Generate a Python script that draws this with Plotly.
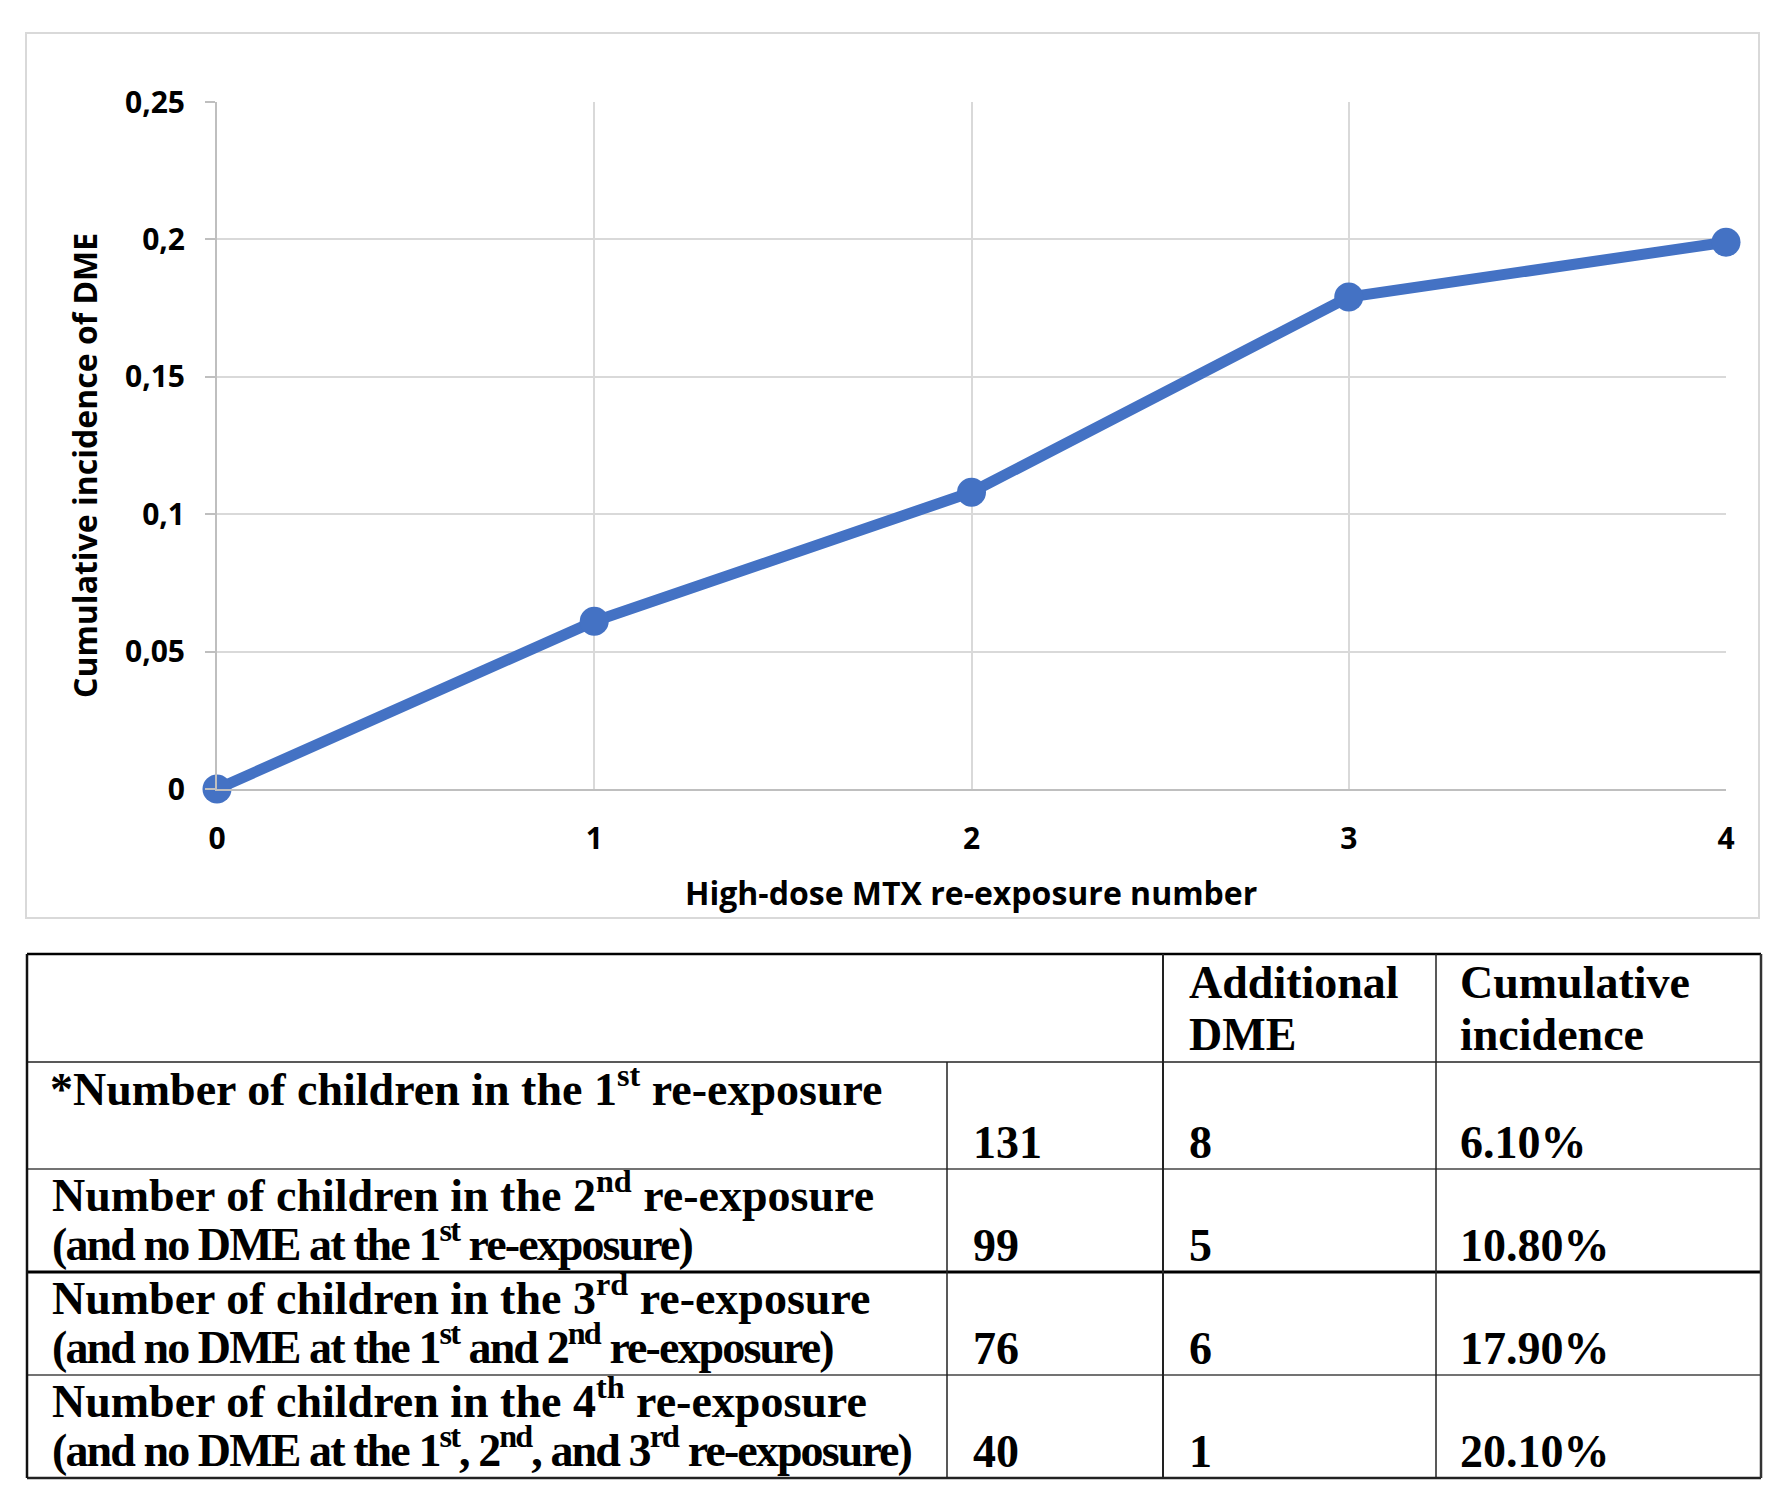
import plotly.graph_objects as go

# ---------------- data ----------------
reexposure = [0, 1, 2, 3, 4]
cum_incidence = [0, 0.061, 0.108, 0.179, 0.199]
y_tickvals = [0, 0.05, 0.1, 0.15, 0.2, 0.25]
y_ticktext = ["0", "0,05", "0,1", "0,15", "0,2", "0,25"]
x_ticktext = ["0", "1", "2", "3", "4"]

x_title = "High-dose MTX re-exposure number"
y_title = "Cumulative incidence of DME"

header_additional = ["Additional", "DME"]
header_cumulative = ["Cumulative", "incidence"]
row_label_line1 = [
    "*Number of children in the 1<sup>st</sup> re-exposure",
    "Number of children in the 2<sup>nd</sup> re-exposure",
    "Number of children in the 3<sup>rd</sup> re-exposure",
    "Number of children in the 4<sup>th</sup> re-exposure",
]
row_label_line2 = [
    "",
    "(and no DME at the 1<sup>st</sup> re-exposure)",
    "(and no DME at the 1<sup>st</sup> and 2<sup>nd</sup> re-exposure)",
    "(and no DME at the 1<sup>st</sup>, 2<sup>nd</sup>, and 3<sup>rd</sup> re-exposure)",
]
n_children = [131, 99, 76, 40]
additional_dme = [8, 5, 6, 1]
cumulative_pct = ["6.10%", "10.80%", "17.90%", "20.10%"]

# ---------------- layout geometry (reference pixels) ----------------
OFF = 8                       # page body margin
W, H = 1786 - OFF, 1494 - OFF
X0PIX, X4PIX = 217, 1726      # x=0 and x=4 in reference pixels
Y25PIX, Y0PIX = 102, 789      # y=0.25 and y=0
L = X0PIX - OFF
T = Y25PIX - OFF
R = W - (X4PIX - OFF)
B = H - (Y0PIX - OFF)
PW = X4PIX - X0PIX
PH = Y0PIX - Y25PIX


def px(x):
    return (x - X0PIX) / PW


def py(y):
    return (Y0PIX - y) / PH


BLUE = "#4472C4"
GRID = "#d9d9d9"
AXIS = "#bfbfbf"
SANS = "Open Sans"
SERIF = "Liberation Serif"

fig = go.Figure()
fig.add_trace(go.Scatter(
    x=reexposure, y=cum_incidence, mode="lines+markers",
    line=dict(color=BLUE, width=11),
    marker=dict(color=BLUE, size=29),
    cliponaxis=False, showlegend=False, hoverinfo="skip",
))

shapes = []
annotations = []

# chart border
shapes.append(dict(type="rect", xref="paper", yref="paper",
                   x0=px(26), x1=px(1759), y0=py(33), y1=py(918),
                   line=dict(color=GRID, width=2), layer="below"))

# axis titles
annotations.append(dict(xref="paper", yref="paper", x=px(971), y=py(892),
                        text=x_title, showarrow=False, xanchor="center", yanchor="middle",
                        font=dict(family=SANS, size=32, color="#000", weight="bold")))
annotations.append(dict(xref="paper", yref="paper", x=px(84), y=py(466),
                        text=y_title, showarrow=False, xanchor="center", yanchor="middle",
                        textangle=-90,
                        font=dict(family=SANS, size=32, color="#000", weight="bold")))

# ---------------- table ----------------
TL, TR = 27, 1761
col1, col2, col3 = 947, 1163, 1436
row_edges = [954, 1062, 1169, 1272, 1375, 1478]


def hline(y, x0, x1, w=1.5, c="#222"):
    shapes.append(dict(type="line", xref="paper", yref="paper",
                       x0=px(x0), x1=px(x1), y0=py(y), y1=py(y),
                       line=dict(color=c, width=w)))


def vline(x, y0, y1, w=1.5, c="#222"):
    shapes.append(dict(type="line", xref="paper", yref="paper",
                       x0=px(x), x1=px(x), y0=py(y0), y1=py(y1),
                       line=dict(color=c, width=w)))


hline(row_edges[0], TL, TR, 2.5, "#000")
hline(row_edges[1], TL, TR, 1.5)
hline(row_edges[2], TL, TR, 1.5, "#444")
hline(row_edges[3], TL, TR, 3, "#000")
hline(row_edges[4], TL, TR, 1.5, "#444")
hline(row_edges[5], TL, TR, 2.5, "#222")
vline(TL, row_edges[0], row_edges[5], 2.5, "#111")
vline(TR, row_edges[0], row_edges[5], 2.5, "#333")
vline(col1, row_edges[1], row_edges[5], 1.5)
vline(col2, row_edges[0], row_edges[5], 2)
vline(col3, row_edges[0], row_edges[5], 1.5)

FS = 46


def text_at(x, baseline, txt, spacing=None):
    shift = 4 if "<sup>" in txt else -1
    if spacing is not None:
        txt = '<span style="letter-spacing:%spx">%s</span>' % (spacing, txt)
    annotations.append(dict(xref="paper", yref="paper", x=px(x),
                            y=py(baseline - 0.33 * FS - shift),
                            text=txt, showarrow=False, xanchor="left", yanchor="middle",
                            font=dict(family=SERIF, size=FS, color="#000", weight="bold")))


# header
text_at(1187, 997, header_additional[0])
text_at(1187, 1049, header_additional[1])
text_at(1458, 997, header_cumulative[0])
text_at(1458, 1049, header_cumulative[1])

# body
for i in range(4):
    top = row_edges[i + 1]
    bot = row_edges[i + 2]
    base_val = bot - 12
    if row_label_line2[i]:
        text_at(50, base_val - 49, row_label_line1[i])
        text_at(50, base_val, row_label_line2[i], spacing=-1.9)
    else:
        text_at(48, top + 43, row_label_line1[i])
    text_at(971, base_val, str(n_children[i]))
    text_at(1187, base_val, str(additional_dme[i]))
    text_at(1458, base_val, cumulative_pct[i])

fig.update_layout(
    width=W, height=H,
    margin=dict(l=L, r=R, t=T, b=B, pad=0),
    paper_bgcolor="white", plot_bgcolor="white",
    shapes=shapes, annotations=annotations,
    showlegend=False,
    xaxis=dict(range=[0, 4], tickvals=reexposure, ticktext=x_ticktext,
               showgrid=True, gridcolor=GRID, gridwidth=2,
               showline=True, linecolor=AXIS, linewidth=2,
               ticks="", ticklabelstandoff=22, zeroline=False,
               tickfont=dict(family=SANS, size=30, color="#000", weight="bold")),
    yaxis=dict(range=[0, 0.25], tickvals=y_tickvals, ticktext=y_ticktext,
               showgrid=True, gridcolor=GRID, gridwidth=2,
               showline=True, linecolor=AXIS, linewidth=2,
               ticks="outside", ticklen=10, tickwidth=2, tickcolor=AXIS,
               ticklabelstandoff=14, zeroline=False,
               tickfont=dict(family=SANS, size=30, color="#000", weight="bold")),
)

fig.write_html("out.html")
